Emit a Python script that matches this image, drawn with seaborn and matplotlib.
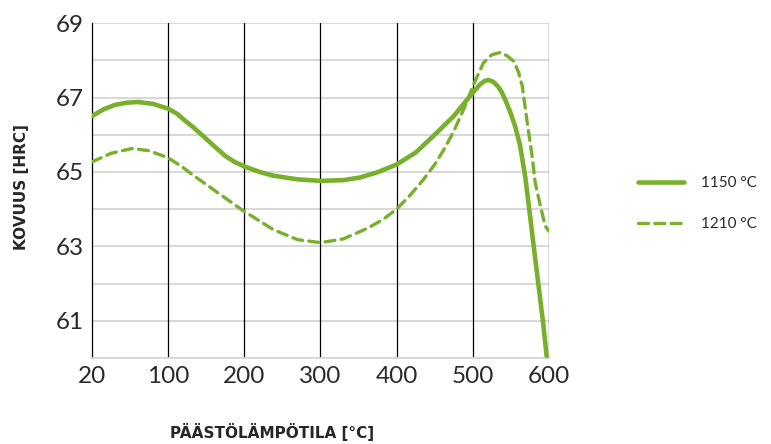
import numpy as np
import pandas as pd
import matplotlib
matplotlib.use('Agg')
import matplotlib.pyplot as plt
import seaborn as sns

# x axis labels (evenly spaced on the chart)
tick_temps = [20, 100, 200, 300, 400, 500, 600]
y_ticks = [61, 63, 65, 67, 69]

# 1150 °C curve
t_1150 = [20, 32, 44, 56, 68, 84, 100, 112, 122, 133, 144, 160, 175, 188, 201, 220,
          238, 270, 300, 330, 352, 376, 400, 425, 448, 475, 490, 500, 510, 516, 521,
          527, 533, 538, 543, 549, 556, 562, 569, 575, 580, 586, 592, 597]
hrc_1150 = [66.5, 66.68, 66.8, 66.86, 66.88, 66.83, 66.7, 66.56, 66.38, 66.2, 66.0,
            65.7, 65.43, 65.26, 65.14, 65.0, 64.9, 64.8, 64.76, 64.78, 64.85, 65.0,
            65.2, 65.52, 65.96, 66.5, 66.88, 67.13, 67.36, 67.45, 67.47, 67.42, 67.3,
            67.14, 66.92, 66.62, 66.2, 65.72, 64.85, 63.85, 63.0, 62.0, 61.0, 60.05]

# 1210 °C curve
t_1210 = [20, 40, 62, 80, 100, 118, 135, 166, 197, 238, 270, 300, 330, 361, 382,
          400, 418, 435, 450, 462, 474, 484, 493, 500, 507, 514, 525, 536, 545, 554,
          560, 565, 571, 578, 582, 589, 595, 600]
hrc_1210 = [65.27, 65.5, 65.63, 65.57, 65.38, 65.14, 64.88, 64.43, 63.98, 63.45,
            63.18, 63.1, 63.2, 63.48, 63.72, 64.0, 64.38, 64.79, 65.2, 65.6, 66.05,
            66.5, 66.92, 67.3, 67.62, 67.93, 68.15, 68.21, 68.12, 67.97, 67.68, 67.3,
            66.4, 65.41, 64.7, 64.07, 63.55, 63.41]

GREEN = '#78b02c'


def to_pos(t):
    return np.interp(t, tick_temps, np.arange(len(tick_temps)))


def main():
    sns.set_style('white')
    plt.rcParams['font.family'] = ['Lato', 'DejaVu Sans']

    df1 = pd.DataFrame({'pos': to_pos(t_1150), 'hrc': hrc_1150})
    df2 = pd.DataFrame({'pos': to_pos(t_1210), 'hrc': hrc_1210})

    fig = plt.figure(figsize=(7.71, 4.44), dpi=100)
    ax = fig.add_axes([0.1193, 0.1937, 0.712 - 0.1193, 0.948 - 0.1937])

    # grid
    for y in range(60, 70):
        ax.axhline(y, color='#d6d6d6', lw=1.3, zorder=0)
    for x in range(1, 7):
        ax.axvline(x, color='black', lw=0.9, zorder=1)

    sns.lineplot(data=df1, x='pos', y='hrc', ax=ax, color=GREEN, lw=3.3,
                 label='1150 °C', zorder=3, solid_capstyle='round',
                 solid_joinstyle='round')
    sns.lineplot(data=df2, x='pos', y='hrc', ax=ax, color=GREEN, lw=2.4,
                 label='1210 °C', zorder=3, dashes=(3.0, 1.9),
                 dash_capstyle='round')

    ax.set_xlim(0, 6)
    ax.set_ylim(60, 69)
    ax.set_xticks(range(len(tick_temps)))
    ax.set_xticklabels([str(t) for t in tick_temps])
    ax.set_yticks(y_ticks)
    ax.tick_params(axis='both', length=0, labelsize=17.5, pad=6)
    for lab in ax.get_xticklabels() + ax.get_yticklabels():
        lab.set_color('#2a2a2a')

    for s in ['top', 'right']:
        ax.spines[s].set_visible(False)
    ax.spines['left'].set_color('black')
    ax.spines['left'].set_linewidth(0.9)
    ax.spines['bottom'].set_color('#d6d6d6')
    ax.spines['bottom'].set_linewidth(1.3)

    ax.set_xlabel('')
    ax.set_ylabel('')
    fig.text(0.0285, 0.578, 'KOVUUS [HRC]', rotation=90, ha='center', va='center',
             fontsize=11, fontweight='bold', family=['DejaVu Sans'])
    fig.text(0.353, 0.027, 'PÄÄSTÖLÄMPÖTILA [°C]', ha='center', va='center',
             fontsize=11, fontweight='bold', family=['DejaVu Sans'])

    leg = ax.legend(loc='center left', bbox_to_anchor=(1.165, 0.461), frameon=False,
                    handlelength=3.0, labelspacing=1.75, handletextpad=1.1,
                    prop={'size': 11})
    for t in leg.get_texts():
        t.set_color('#2a2a2a')

    fig.savefig('out.png', dpi=100)
    plt.close(fig)


if __name__ == "__main__":
    main()
